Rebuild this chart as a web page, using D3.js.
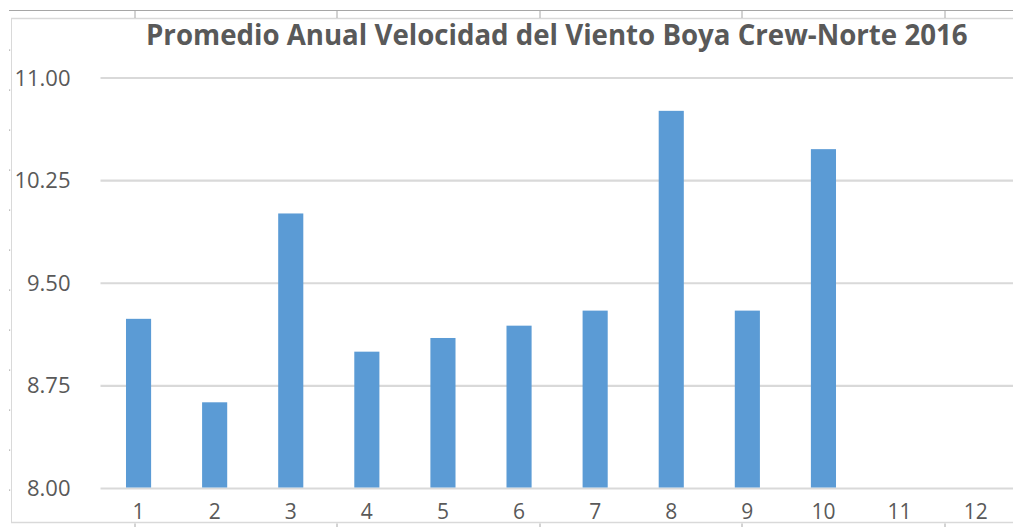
<!DOCTYPE html>
<html lang="es">
<head>
	<meta charset="utf-8">
	<title>Promedio Anual Velocidad del Viento Boya Crew-Norte 2016</title>
	<script src="https://cdn.jsdelivr.net/npm/d3@7"></script>
	<style>
		body { margin: 0; background: #fff; }
		text { font-family: "Open Sans", sans-serif; fill: #595959; }
	</style>
</head>
<body>
<script>
	// Data
	var months = ["1", "2", "3", "4", "5", "6", "7", "8", "9", "10", "11", "12"];
	var speeds = [9.24, 8.63, 10.01, 9.00, 9.10, 9.19, 9.30, 10.76, 9.30, 10.48, null, null];
	var yTicks = [8.00, 8.75, 9.50, 10.25, 11.00];
	var titleText = "Promedio Anual Velocidad del Viento Boya Crew-Norte 2016";

	// spreadsheet column edges and row marks seen around the chart
	var sheetCols = [135, 337, 540, 742, 945];
	var sheetRows = d3.range(50, 491, 40);

	var w = 1013;
	var h = 527;

	var svg = d3.select("body")
		.append("svg")
		.attr("width", w)
		.attr("height", h);

	// Sheet frame (the chart is a crop of a spreadsheet)
	svg.append("line")
		.attr("x1", 9).attr("y1", 10.5).attr("x2", w).attr("y2", 10.5)
		.attr("stroke", "#a6a6a6").attr("stroke-width", 1);
	svg.append("line")
		.attr("x1", 11).attr("y1", 18.5).attr("x2", w).attr("y2", 18.5)
		.attr("stroke", "#d9d9d9").attr("stroke-width", 1.5);
	svg.append("line")
		.attr("x1", 11.5).attr("y1", 18.5).attr("x2", 11.5).attr("y2", 522.5)
		.attr("stroke", "#d9d9d9").attr("stroke-width", 1);
	svg.append("line")
		.attr("x1", 11).attr("y1", 522.5).attr("x2", w).attr("y2", 522.5)
		.attr("stroke", "#d9d9d9").attr("stroke-width", 1.5);

	svg.selectAll("line.coltop")
		.data(sheetCols)
		.enter()
		.append("line")
		.attr("class", "coltop")
		.attr("x1", function(d) { return d; })
		.attr("x2", function(d) { return d; })
		.attr("y1", 11).attr("y2", 18)
		.attr("stroke", "#a6a6a6");
	svg.selectAll("line.colbot")
		.data(sheetCols)
		.enter()
		.append("line")
		.attr("class", "colbot")
		.attr("x1", function(d) { return d; })
		.attr("x2", function(d) { return d; })
		.attr("y1", 523.5).attr("y2", h)
		.attr("stroke", "#a6a6a6");
	svg.selectAll("rect.rowmark")
		.data(sheetRows)
		.enter()
		.append("rect")
		.attr("class", "rowmark")
		.attr("x", 9).attr("y", function(d) { return d - 0.5; })
		.attr("width", 1.2).attr("height", 1.2)
		.attr("fill", "#a6a6a6");

	// Scales
	var xLeft = 100.5;
	var xRight = 1013.7;
	var xScale = d3.scaleBand()
		.domain(months)
		.range([xLeft, xRight])
		.paddingInner(0.67)
		.paddingOuter(0.335);

	var yScale = d3.scaleLinear()
		.domain([8, 11])
		.range([488.5, 78]);

	// Gridlines
	svg.selectAll("line.grid")
		.data(yTicks)
		.enter()
		.append("line")
		.attr("class", "grid")
		.attr("x1", xLeft)
		.attr("x2", w)
		.attr("y1", function(d) { return yScale(d); })
		.attr("y2", function(d) { return yScale(d); })
		.attr("stroke", "#d9d9d9")
		.attr("stroke-width", 2.2);

	// Bars
	svg.selectAll("rect.bar")
		.data(months.map(function(m, i) { return { month: m, value: speeds[i] }; })
			.filter(function(d) { return d.value != null; }))
		.enter()
		.append("rect")
		.attr("class", "bar")
		.attr("x", function(d) { return xScale(d.month); })
		.attr("y", function(d) { return yScale(d.value); })
		.attr("width", xScale.bandwidth())
		.attr("height", function(d) { return yScale(8) - yScale(d.value) - 1; })
		.attr("fill", "#5b9bd5");

	// Y axis labels
	var yAxis = svg.append("g")
		.attr("transform", "translate(" + xLeft + ",0)")
		.call(d3.axisLeft(yScale)
			.tickValues(yTicks)
			.tickFormat(d3.format(".2f"))
			.tickSize(0)
			.tickPadding(30));
	yAxis.select(".domain").remove();
	yAxis.selectAll("text")
		.attr("fill", "#595959")
		.style("font-size", "22px")
		.style("font-family", "'Open Sans', sans-serif");

	// X axis labels
	var xAxis = svg.append("g")
		.attr("transform", "translate(0," + yScale(8) + ")")
		.call(d3.axisBottom(xScale)
			.tickSize(0)
			.tickPadding(15.5));
	xAxis.select(".domain").remove();
	xAxis.selectAll("text")
		.attr("fill", "#595959")
		.style("font-size", "21px")
		.style("font-family", "'Open Sans', sans-serif");

	// Title, sized to the width it has in the original
	var title = svg.append("text")
		.attr("x", 146)
		.attr("y", 45)
		.attr("text-anchor", "start")
		.style("font-size", "28px")
		.style("font-weight", "bold")
		.text(titleText);
	var tw = title.node().getComputedTextLength();
	var fs = 28 * 822 / tw;
	title.style("font-size", fs + "px");
</script>
</body>
</html>
